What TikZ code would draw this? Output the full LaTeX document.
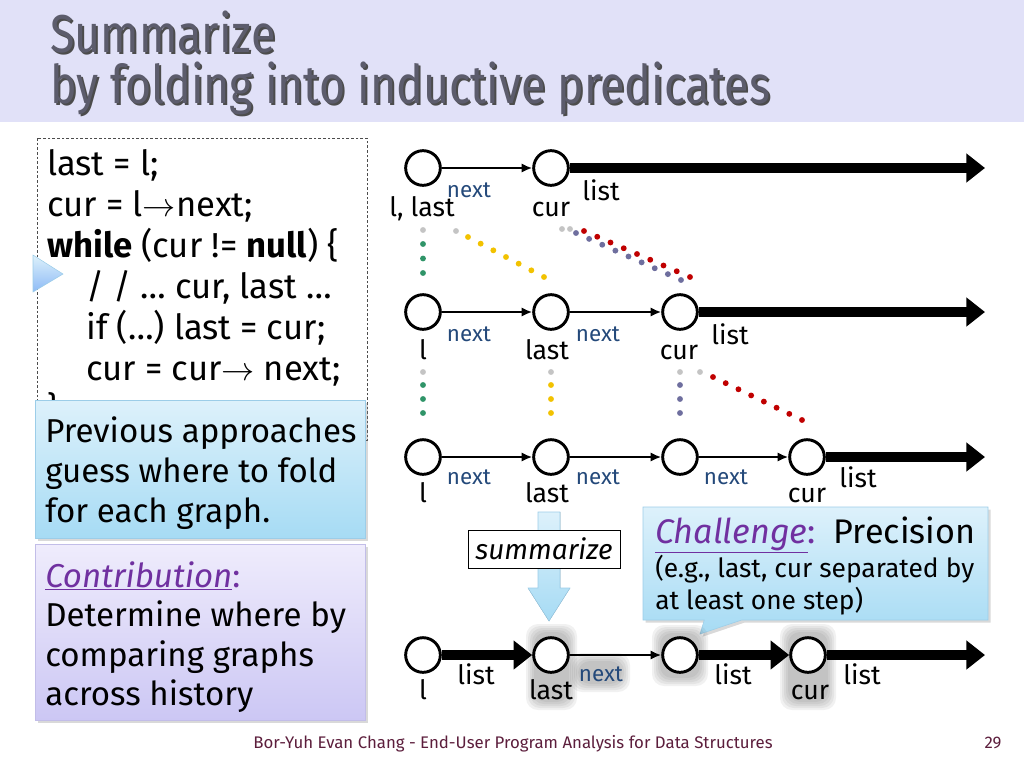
\documentclass[tikz,border=0pt]{standalone}
\usepackage{fontspec}
\setmainfont{Fira Sans}
\newfontfamily\titlefont[FakeStretch=0.84]{Fira Sans}
\usepackage{xcolor}
\usetikzlibrary{arrows.meta,positioning,calc,shadows,shapes.callouts}

\definecolor{titleband}{HTML}{E1E1F8}
\definecolor{titletext}{HTML}{3F3F52}
\definecolor{nextblue}{HTML}{24497A}
\definecolor{purp}{HTML}{7030A0}
\definecolor{footc}{HTML}{5C1E3C}
\definecolor{dotgreen}{HTML}{2F9468}
\definecolor{dotyellow}{HTML}{F2C200}
\definecolor{dotred}{HTML}{C00000}
\definecolor{dotpurple}{HTML}{6E6E9E}
\definecolor{dotgray}{HTML}{C4C4C4}
\definecolor{bluetop}{HTML}{DDF1FB}
\definecolor{bluebot}{HTML}{A6DBF4}
\definecolor{blueedge}{HTML}{9CCDE8}
\definecolor{lilatop}{HTML}{EFECFC}
\definecolor{lilabot}{HTML}{CCC7F4}
\definecolor{lilaedge}{HTML}{C2BDE8}

% a row of evenly spaced dots
\newcommand{\dotline}[4]{\foreach \k in {0,...,#4}{\fill[#1] ($(#2)!\k/#4!(#3)$) circle (2.2pt);}}
% soft grey halo
\newcommand{\haze}[4]{\foreach \g in {0,2,4,6,8}{\fill[glow] (#1-\g,#2-\g) rectangle (#3+\g,#4+\g);}}

\begin{document}
\begin{tikzpicture}[x=0.75pt, y=-0.75pt,
    vtx/.style={circle, draw, line width=2.2pt, minimum size=26pt, inner sep=0pt, fill=white},
    ptr/.style={-{Latex[length=8pt,width=7pt]}, line width=1.5pt},
    fat/.style={-{Triangle[length=14pt,width=21pt]}, line width=7pt},
    lbl/.style={inner sep=0pt, anchor=base, font=\fontsize{20}{20}\selectfont},
    nxt/.style={lbl, text=nextblue, font=\fontsize{16.8}{16.8}\selectfont},
    body/.style={inner sep=0pt, anchor=base west, font=\fontsize{24.8}{24.8}\selectfont},
    code/.style={body, font=\fontsize{26}{26}\selectfont},
    small/.style={body, font=\fontsize{19.8}{19.8}\selectfont},
    ttl/.style={inner sep=0pt, anchor=base west, font=\titlefont\fontsize{40}{40}\selectfont},
    glow/.style={fill=black!70, opacity=0.08, rounded corners=9pt},
    note/.style={draw=blueedge, top color=bluetop, bottom color=bluebot, drop shadow={opacity=0.3, shadow xshift=2pt, shadow yshift=-2pt}}
]
\useasboundingbox (0,0) rectangle (1024,768);

% title
\fill[titleband] (0,0) rectangle (1024,122);
\node[ttl, text=black!70] at (52,54) {Summarize};
\node[ttl, text=black!70] at (52,105) {by folding into inductive predicates};
\node[ttl, text=titletext!85] (t1) at (50,52) {Summarize};
\node[ttl, text=titletext!85] (t2) at (50,103) {by folding into inductive predicates};

% program
\draw[black!70, line width=0.6pt, dash pattern=on 2pt off 1.5pt] (37,138) rectangle (367,440);
\node[code] (c1) at (47,175) {last = l;};
\node[code] (c2) at (47,216) {cur = l$\rightarrow$next;};
\node[code] (c3) at (47,257) {\textbf{while} (cur != \textbf{null}) \{};
\node[code] (c4) at (86,298) {/ /  … cur, last …};
\node[code] (c5) at (86,339) {if (…) last = cur;};
\node[code] (c6) at (86,380) {cur = cur$\rightarrow$ next;};
\node[code] (c7) at (47,421) {\}};
\draw[draw=blueedge, top color=bluetop, bottom color=bluebot!85!blue] (33,255) -- (63,274) -- (33,292) -- cycle;

% left notes
\node[note, minimum width=247.5pt, minimum height=103.5pt, anchor=north west] (prevbox) at (35,400) {};
\foreach \t [count=\i] in {Previous approaches, guess where to fold, for each graph.}
  \node[body] (prev-\i) at (45,402+40*\i) {\t};
\node[note, draw=lilaedge, top color=lilatop, bottom color=lilabot,
      minimum width=247.5pt, minimum height=132pt, anchor=north west] (contbox) at (35,544) {};
\node[body] (cont-1) at (45,587) {\color{purp}\underline{\textit{Contribution}}:};
\foreach \t [count=\i] in {Determine where by, comparing graphs, across history}
  \node[body] (cont-\the\numexpr\i+1\relax) at (45,587+39.5*\i) {\t};

% row 1
\node[vtx] (r1a) at (423,168) {};
\node[vtx] (r1b) at (551,168) {};
\coordinate (r1e) at (985,168);
\draw[ptr] (r1a) -- (r1b);
\draw[fat] (r1b) -- (r1e);
\node[nxt] at (469,197) {next};
\node[lbl] at (422,216) {l, last};
\node[lbl] at (551,216) {cur};
\node[lbl] at (601,200) {list};

% row 2
\node[vtx] (r2a) at (423,312) {};
\node[vtx] (r2b) at (551,312) {};
\node[vtx] (r2c) at (680,312) {};
\coordinate (r2e) at (985,312);
\draw[ptr] (r2a) -- (r2b);
\draw[ptr] (r2b) -- (r2c);
\draw[fat] (r2c) -- (r2e);
\node[nxt] at (469,341) {next};
\node[nxt] at (598,341) {next};
\node[lbl] at (423,359) {l};
\node[lbl] at (547,359) {last};
\node[lbl] at (679,359) {cur};
\node[lbl] at (730,344) {list};

% row 3
\node[vtx] (r3a) at (423,457) {};
\node[vtx] (r3b) at (551,457) {};
\node[vtx] (r3c) at (680,457) {};
\node[vtx] (r3d) at (807,457) {};
\coordinate (r3e) at (985,457);
\draw[ptr] (r3a) -- (r3b);
\draw[ptr] (r3b) -- (r3c);
\draw[ptr] (r3c) -- (r3d);
\draw[fat] (r3d) -- (r3e);
\node[nxt] at (469,484) {next};
\node[nxt] at (598,484) {next};
\node[nxt] at (726,484) {next};
\node[lbl] at (423,502) {l};
\node[lbl] at (547,502) {last};
\node[lbl] at (807,502) {cur};
\node[lbl] at (858,487) {list};

% correspondence dots
\fill[dotgray] (423,230) circle (2.2pt);
\dotline{dotgreen}{423,244}{423,273}{2}
\fill[dotgray] (456,231) circle (2.2pt);
\dotline{dotyellow}{468,237}{544,277}{6}
\fill[dotgray] (562,229) circle (2.2pt);
\fill[dotgray] (570,229) circle (2.2pt);
\dotline{dotpurple}{576,233}{681,280}{8}
\dotline{dotred}{584,231}{690,277}{8}
\foreach \x/\c in {423/dotgreen, 551/dotyellow, 680/dotpurple}{
  \fill[dotgray] (\x,372) circle (2.2pt);
  \dotline{\c}{\x,385}{\x,413}{2}
}
\fill[dotgray] (700,372) circle (2.2pt);
\dotline{dotred}{713,377}{802,420}{7}

% summarize
\fill[draw=blueedge, top color=bluetop, bottom color=bluebot]
  (538,512) -- (560,512) -- (560,588) -- (570,588) -- (549,621) -- (528,588) -- (538,588) -- cycle;
\node[draw, fill=white, minimum width=114pt, minimum height=28.5pt, font=\fontsize{21}{21}\selectfont\itshape] (sum) at (544,549) {summarize};

% challenge
\node[note, rectangle callout, callout absolute pointer={(700,634)}, callout pointer width=28pt,
      minimum width=258.75pt, minimum height=84.75pt] (chal) at (815.5,563.5) {};
\node[body, font=\fontsize{25.6}{25.6}\selectfont] (chal-1) at (655,543) {{\color{purp}\underline{\textit{Challenge}}:}\ \ Precision};
\node[small] (chal-2) at (655,577) {(e.g., last, cur separated by};
\node[small] (chal-3) at (655,609) {at least one step)};

% summary row
\haze{534}{632}{569}{702}
\haze{578}{661}{622}{684}
\haze{660}{633}{700}{678}
\haze{788}{632}{828}{702}
\node[vtx] (s1) at (423,655) {};
\node[vtx] (s2) at (551,655) {};
\node[vtx] (s3) at (680,655) {};
\node[vtx] (s4) at (808,655) {};
\coordinate (se) at (985,655);
\draw[fat] (s1) -- (s2);
\draw[ptr] (s2) -- (s3);
\draw[fat] (s3) -- (s4);
\draw[fat] (s4) -- (se);
\node[lbl] at (476,684) {list};
\node[lbl] at (423,699) {l};
\node[lbl] at (551,699) {last};
\node[nxt] at (601,681) {next};
\node[lbl] at (733,684) {list};
\node[lbl] at (810,699) {cur};
\node[lbl] at (862,684) {list};

% footer
\node[inner sep=0pt, anchor=base, text=footc, font=\fontsize{12.6}{12.6}\selectfont] (foot) at (513,748) {Bor-Yuh Evan Chang - End-User Program Analysis for Data Structures};
\node[inner sep=0pt, anchor=base, text=footc, font=\fontsize{12.6}{12.6}\selectfont] (pg) at (993,748) {29};
\end{tikzpicture}
\end{document}
